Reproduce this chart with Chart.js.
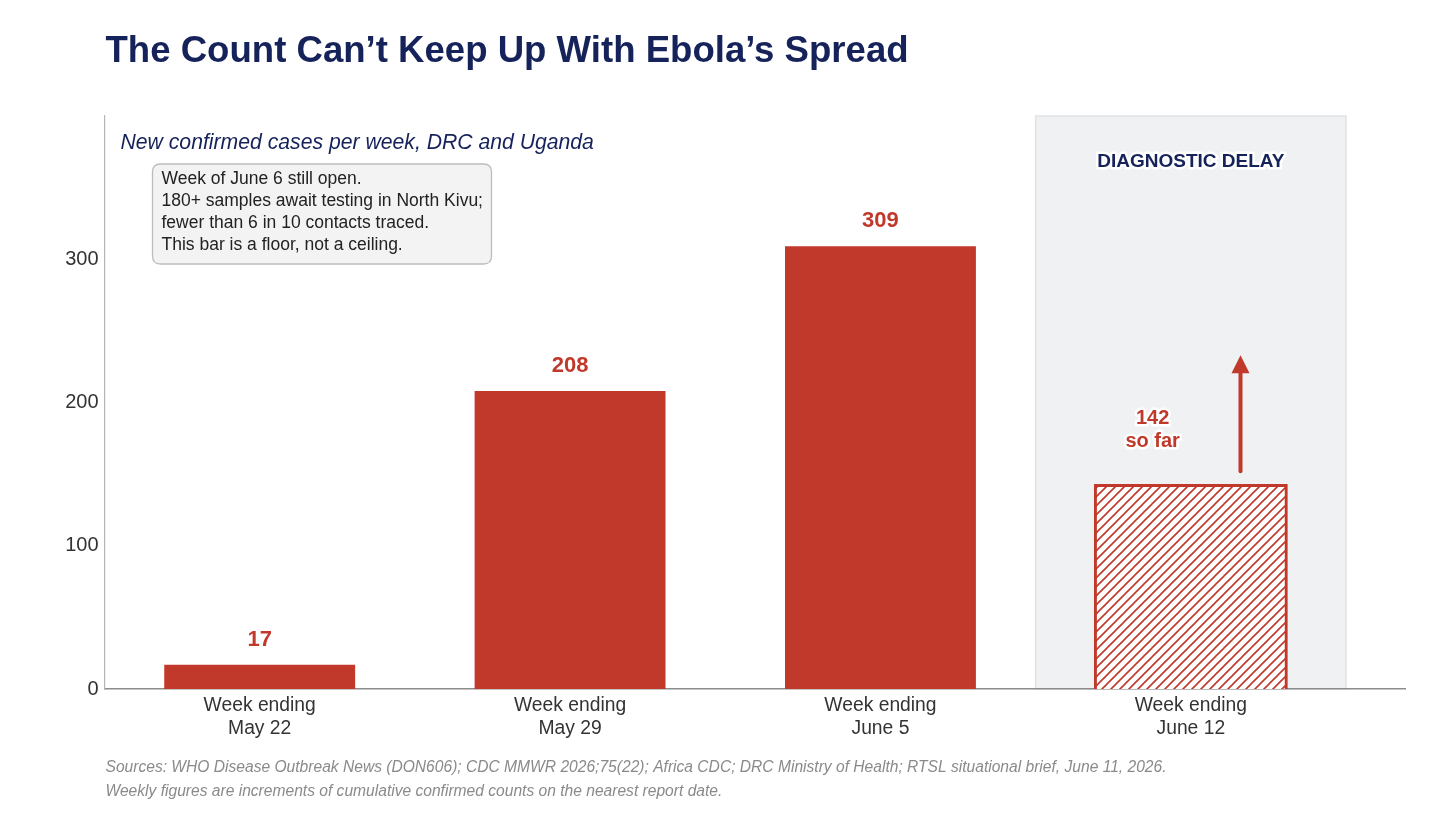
<!DOCTYPE html>
<html>
<head>
<meta charset="utf-8">
<script src="https://cdn.jsdelivr.net/npm/chart.js@4.4.1/dist/chart.umd.min.js"></script>
<style>
html, body { margin: 0; padding: 0; background: #fff; }
</style>
</head>
<body>
<canvas id="ebolaChart" width="1456" height="821"></canvas>
<script>
// values
const weekLabels = [["Week ending", "May 22"], ["Week ending", "May 29"], ["Week ending", "June 5"], ["Week ending", "June 12"]];
const newCases = [17, 208, 309, 142];
const yTickValues = [0, 100, 200, 300];
const openWeekIndex = 3;
const noteLines = [
    "Week of June 6 still open.",
    "180+ samples await testing in North Kivu;",
    "fewer than 6 in 10 contacts traced.",
    "This bar is a floor, not a ceiling."
];
const sourceLines = [
    "Sources: WHO Disease Outbreak News (DON606); CDC MMWR 2026;75(22); Africa CDC; DRC Ministry of Health; RTSL situational brief, June 11, 2026.",
    "Weekly figures are increments of cumulative confirmed counts on the nearest report date."
];
// annotation anchors in data units
const soFarAnchor = { x: 2.877, y: 181 };
const arrowFrom = { x: 3.16, y: 152 };
const arrowTo = { x: 3.16, y: 233 };
const delayLabelAnchor = { x: 3, y: 368 };

const RED = '#c0392b';
const NAVY = '#16225a';
const FONT = '"Liberation Sans", Arial, sans-serif';

const ctx = document.getElementById('ebolaChart').getContext('2d');

// diagonal hatch for the still-open week
function makeHatch(color)
{
    const s = 9;
    const c = document.createElement('canvas');
    c.width = s; c.height = s;
    const g = c.getContext('2d');
    g.fillStyle = '#fff';
    g.fillRect(0, 0, s, s);
    g.strokeStyle = color;
    g.lineWidth = 1.6;
    g.beginPath();
    g.moveTo(0, s); g.lineTo(s, 0);
    g.moveTo(-s / 2, s / 2); g.lineTo(s / 2, -s / 2);
    g.moveTo(s / 2, s * 1.5); g.lineTo(s * 1.5, s / 2);
    g.stroke();
    return ctx.createPattern(c, 'repeat');
}

function haloText(c, text, x, y)
{
    c.save();
    c.lineJoin = 'round';
    c.strokeStyle = '#fff';
    c.lineWidth = 5;
    c.strokeText(text, x, y);
    c.restore();
    c.fillText(text, x, y);
}

function roundRect(c, x, y, w, h, r)
{
    c.beginPath();
    c.moveTo(x + r, y);
    c.lineTo(x + w - r, y);
    c.quadraticCurveTo(x + w, y, x + w, y + r);
    c.lineTo(x + w, y + h - r);
    c.quadraticCurveTo(x + w, y + h, x + w - r, y + h);
    c.lineTo(x + r, y + h);
    c.quadraticCurveTo(x, y + h, x, y + h - r);
    c.lineTo(x, y + r);
    c.quadraticCurveTo(x, y, x + r, y);
    c.closePath();
}

const decorations = {
    id: 'decorations',
    beforeDraw(chart)
    {
        // shaded "diagnostic delay" band behind the open week
        const c = chart.ctx, a = chart.chartArea, xs = chart.scales.x;
        const x0 = xs.getPixelForValue(openWeekIndex - 0.5);
        const x1 = xs.getPixelForValue(openWeekIndex + 0.5);
        c.save();
        c.fillStyle = '#eff1f3';
        c.fillRect(x0, a.top, x1 - x0, a.bottom - a.top);
        c.strokeStyle = '#dfe2e6';
        c.lineWidth = 1.5;
        c.strokeRect(x0, a.top, x1 - x0, a.bottom - a.top);
        c.restore();
    },
    afterDatasetsDraw(chart)
    {
        const c = chart.ctx, xs = chart.scales.x, ys = chart.scales.y;
        const meta = chart.getDatasetMeta(0);
        c.save();
        c.font = 'bold 22px ' + FONT;
        c.fillStyle = RED;
        c.textAlign = 'center';
        c.textBaseline = 'middle';
        meta.data.forEach(function(bar, i) {
            if (i === openWeekIndex) return;
            c.fillText(String(newCases[i]), bar.x, bar.y - 25);
        });

        // "142 so far" label
        c.font = 'bold 20px ' + FONT;
        const sx = xs.getPixelForValue(soFarAnchor.x);
        const sy = ys.getPixelForValue(soFarAnchor.y);
        haloText(c, String(newCases[openWeekIndex]), sx, sy - 11.5);
        haloText(c, 'so far', sx, sy + 11.5);

        // upward arrow
        const ax = xs.getPixelForValue(arrowFrom.x);
        const ay0 = ys.getPixelForValue(arrowFrom.y);
        const ay1 = ys.getPixelForValue(arrowTo.y);
        c.strokeStyle = RED;
        c.lineWidth = 4;
        c.lineCap = 'round';
        c.beginPath();
        c.moveTo(ax, ay0);
        c.lineTo(ax, ay1 + 14);
        c.stroke();
        c.beginPath();
        c.moveTo(ax, ay1);
        c.lineTo(ax - 9, ay1 + 18);
        c.lineTo(ax + 9, ay1 + 18);
        c.closePath();
        c.fill();

        // band label
        c.font = 'bold 19px ' + FONT;
        c.fillStyle = NAVY;
        haloText(c, 'DIAGNOSTIC DELAY', xs.getPixelForValue(delayLabelAnchor.x), ys.getPixelForValue(delayLabelAnchor.y));
        c.restore();
    },
    afterDraw(chart)
    {
        const c = chart.ctx, a = chart.chartArea;
        c.save();
        c.textBaseline = 'middle';
        c.textAlign = 'left';

        c.fillStyle = NAVY;
        c.font = 'bold 36.6px ' + FONT;
        c.fillText('The Count Can\u2019t Keep Up With Ebola\u2019s Spread', a.left + 1, 52);

        c.font = 'italic 21.2px ' + FONT;
        c.fillText('New confirmed cases per week, DRC and Uganda', a.left + 16, 143);

        // note box
        roundRect(c, a.left + 48, 164, 339, 100, 8);
        c.fillStyle = '#f3f3f3';
        c.fill();
        c.strokeStyle = '#bdbdbd';
        c.lineWidth = 1.3;
        c.stroke();
        c.fillStyle = '#222';
        c.font = '17.5px ' + FONT;
        noteLines.forEach(function(line, i) {
            c.fillText(line, a.left + 57, 179 + i * 22);
        });

        c.fillStyle = '#8a8a8a';
        c.font = 'italic 15.6px ' + FONT;
        sourceLines.forEach(function(line, i) {
            c.fillText(line, a.left + 1, 768 + i * 24);
        });
        c.restore();
    }
};

const barColors = newCases.map((v, i) => i === openWeekIndex ? makeHatch(RED) : RED);
const borderWidths = newCases.map((v, i) => i === openWeekIndex ? 3 : 0);

new Chart(ctx, {
    type: 'bar',
    data: {
        datasets: [{
            data: newCases.map((v, i) => ({ x: i, y: v })),
            backgroundColor: barColors,
            borderColor: RED,
            borderWidth: borderWidths,
            inflateAmount: function(c) { return c.dataIndex === openWeekIndex ? 1.5 : 'auto'; },
            categoryPercentage: 1,
            barPercentage: 0.615
        }]
    },
    options: {
        responsive: false,
        animation: false,
        layout: { padding: { top: 116, right: 51, left: 0, bottom: 0 } },
        plugins: {
            legend: { display: false },
            tooltip: { enabled: false }
        },
        scales: {
            x: {
                type: 'linear',
                min: -0.5,
                max: 3.69,
                offset: false,
                afterBuildTicks: function(scale) {
                    scale.ticks = weekLabels.map((l, i) => ({ value: i }));
                },
                afterFit: function(scale) { scale.height = 132; },
                grid: { display: false, drawTicks: false },
                border: { display: true, color: '#8c8c8c', width: 1.5 },
                ticks: {
                    autoSkip: false,
                    maxRotation: 0,
                    padding: 5,
                    color: '#333',
                    font: { family: FONT, size: 19.3 },
                    callback: function(value) { return weekLabels[value]; }
                }
            },
            y: {
                min: 0,
                max: 400,
                afterBuildTicks: function(scale) {
                    scale.ticks = yTickValues.map(v => ({ value: v }));
                },
                afterFit: function(scale) { scale.width = 104.5; },
                grid: { display: false, drawTicks: false },
                border: { display: true, color: '#b5b5b5', width: 1.2 },
                ticks: {
                    padding: 6,
                    color: '#333',
                    font: { family: FONT, size: 20 }
                }
            }
        }
    },
    plugins: [decorations]
});
</script>
</body>
</html>
